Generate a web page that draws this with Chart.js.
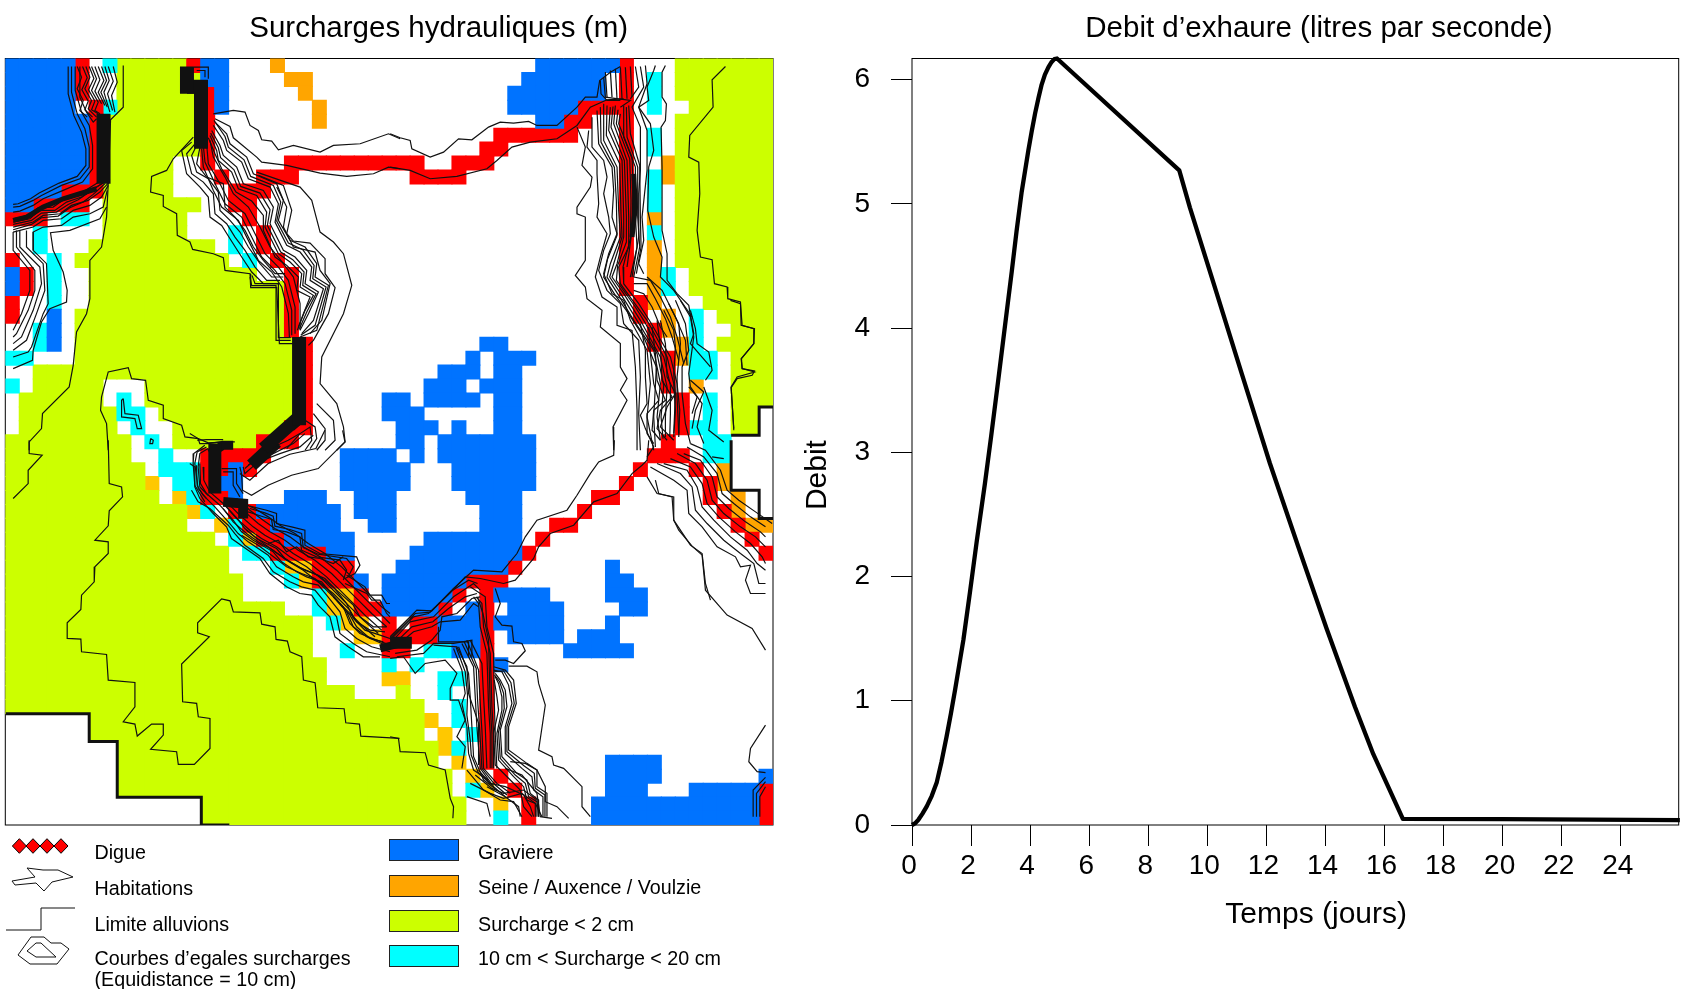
<!DOCTYPE html>
<html>
<head>
<meta charset="utf-8">
<title>Surcharges hydrauliques</title>
<script src="https://cdn.jsdelivr.net/npm/chart.js@4/dist/chart.umd.min.js"></script>
<style>
  html, body { margin: 0; padding: 0; background: #fff; }
  canvas { position: absolute; top: 0; }
  #carte { left: 0; }
  #debit { left: 800px; }
</style>
</head>
<body>
<canvas id="carte" width="800" height="989"></canvas>
<canvas id="debit" width="881" height="989"></canvas>
<script>
// debit d'exhaure
const temps = [0, 0.10, 0.21, 0.35, 0.5, 0.67, 0.84, 1.0, 1.17, 1.32, 1.46, 1.60, 1.74, 1.96, 2.19, 2.47, 2.68, 2.92, 3.15, 3.38, 3.54, 3.71, 3.94, 4.05, 4.17, 4.28, 4.39, 4.5, 4.62, 4.72, 4.82, 4.91, 9.05, 9.41, 10.2, 11.17, 12.12, 13.08, 14.04, 15.0, 15.62, 16.62, 20, 26];
const debit = [0, 0.013, 0.04, 0.09, 0.15, 0.235, 0.345, 0.51, 0.71, 0.90, 1.09, 1.29, 1.49, 1.87, 2.28, 2.75, 3.13, 3.58, 4.02, 4.46, 4.78, 5.09, 5.43, 5.58, 5.73, 5.85, 5.96, 6.04, 6.10, 6.14, 6.165, 6.17, 5.27, 4.97, 4.37, 3.63, 2.91, 2.24, 1.58, 0.95, 0.57, 0.05, 0.048, 0.04];

// carte : 55 x 55 mailles, une chaine par ligne (nombre + code)
const couleurs = { B: '#0073ff', R: '#ff0000', C: '#00ffff', O: '#ffa500', Y: '#ffc800', L: '#ccff00' };
const mailles = [
  '5B R . C 5L R 2B 3. O 18. 6B R 3. 7L',
  '5B R 2. 6L 2B 4. 2O 15. 6B . R . C . 7L',
  '5B R 2. 6L R B 5. O 14. 7B . R . C . 7L',
  '5B . R C 6L R B 6. O 13. 5B 4R . C 2. 6L',
  '6B R 7L R 7. O 15. 2B 2R 2. R 3. 7L',
  '6B R 7L R 20. 6R 3. R . C . 7L',
  '6B R 7L R 19. 2R 8. R . C . 7L',
  '6B R 5L 2. R 5. 10R 2. 3R 9. R 2. O 7L',
  '6B R 5L 3. R 2. 3R 8. 4R 11. R . C O 7L',
  '4B 3R 5L 4. 3R 25. R . C . 7L',
  '2B 4R . 7L 2. 2R 26. R . C . 7L',
  '3R . 2C . 6L 4. R 26. R . O . 7L',
  '2. C 4. 6L 3. C . R 25. R . C . 7L',
  '2. C 3. 9L . C . R 25. R . O . 7L',
  'R 2. C . 11L . C . R 24. R . O . 7L',
  'B R . C 2. 12L 2. R 23. R . O C . 6L',
  'B R . C 2. 14L R 23. R . O C . 6L',
  'R 2. C 2. 14L R 24. R O 3. 5L',
  'R 2. B . 15L R 24. R . O . C . 4L',
  '2. C B . 15L R 25. R O . C 2. 3L',
  '2. C B . 16L R 12. 2B 10. R . O C . 4L',
  '2C 3. 16L R 11. B . 3B 9. R O 2C . 3L',
  '2. 19L R 9. 3B . 2B 10. R . 2C . 3L',
  'C . 5L 3. 11L R 8. 3B . 3B 10. R . O 2. 3L',
  '. 6L . C . 11L R 5. 2B . 4B . 2B 11. R . C . 3L',
  '. 7L 2C . 10L R 5. 3B 5. 2B 11. R . C . 2L .',
  '. 7L . C 2. 8L 2R 6. 3B . B 2. 2B 11. R 2C . 2L .',
  '9L . C . 6L 3R 7. 2B . 7B 9. R 2. 2C 3.',
  '9L 2. C 2. 4R R 5. 4B . B . 7B 8. 3R . 2C 3.',
  '10L . 3C R R B R 6. 5B 3. 6B 7. R 3. R . O 3.',
  '10L Y . 2C R 2B . 6. 5B 3. 6B 6. R 5. R O 3.',
  '11L . Y C R R B . 2. 3B 2. 3B 5. 4B 5. 2R 6. R . O 2.',
  '13L Y C . R R 6B . 3B 6. 3B 4. R 9. R O 2.',
  '13L 2. Y C R R 5B 2. 2B 6. 3B 2. 2R 11. R 2O',
  '15L . C Y 2R 5B 5. 7B . R 14. R .',
  '16L . 2C 4R 2B 4. 8B R 16. R',
  '16L 3. C 2Y 3R 3. 8B R 6. B 11.',
  '17L 3. C Y 2R R B . 6B 3R 7. 2B 10.',
  '17L 5. C 2Y R . 5B R . R 4B 4. 3B 9.',
  '20L 2. C 2Y 2R 4B R . B R . 4B 4. 2B 9.',
  '22L . C 2Y . R . 2R 3B R 5B 3. B 11.',
  '22L 3. 2Y 2R 2R 3B R . 4B . 3B 11.',
  '22L 2. C 2. 2R . 2C 2B R 5. 5B 10.',
  '23L 4. C . C 4. R B 19.',
  '23L 4. 2Y 2. 2C . R 20.',
  '25L 3. L 2. C 2. R 20.',
  '30L 2. C . R 20.',
  '6. 24L Y . C . R 20.',
  '6. 24L . Y . C R 20.',
  '8. 23L Y C . R 20.',
  '8. 23L . Y . R 8. 4B 8.',
  '8. 24L . Y . R 7. 4B 7. B',
  '8. 24L . C Y . R 6. 3B 3. 5B R',
  '14. 19L 2. Y . R 4. 12B R',
  '14. 19L 2. C . R 4. 12B R'
];

// courbes d'egales surcharges, relevees par dalle de la carte
const dalles = { A: [-16.5, -24], B: [1153.5, -24], C: [-16.5, 1146], D: [1153.5, 1146], E: [1903.5, 726], F: [553, 1116] };
const courbesA = [
  [370,45,370,170,332,208,325,400,320,500,305,590,270,630,270,745,260,790,230,845,220,945,208,1010,128,1090,125,1135,88,1175,88,1200],
  [640,190,700,180,735,185,750,225,775,240,785,268,815,272,835,298,880,285,960,305,1000,285,1080,280,1165,250,1200,265],
  [645,205,690,228,700,262,770,320,785,335,860,345,960,368,1040,378,1120,370,1165,350,1200,355],
  [770,365,900,410,935,450,960,545,1000,575,1030,610,1055,705,1030,790,965,920,960,1000,1010,1060,1030,1130,1035,1175,1010,1200],
  [775,375,850,405,875,480,860,550,880,572,930,578,975,625,975,670,1005,712,985,790,940,870,925,885],
  [830,410,860,470,850,530,880,590,945,605,960,660,990,700,965,810,930,850],
  [580,260,520,325,500,360,455,378,452,425,490,435,490,468,530,490,532,555,570,575,578,597,640,610,670,622,675,660,750,670,752,712,830,712,838,880,878,880],
  [575,275,545,300,560,370,600,410,625,440,630,500,665,525,690,565,725,620,755,665,790,700,835,700],
  [585,280,560,310,575,370,610,395,640,430,645,490,680,520,705,560,735,600,765,650,800,690,840,690],
  [590,285,575,315,590,365,625,385,655,425,660,480,690,510,720,545,745,590,780,640,815,680,850,680],
  [600,290,590,340,620,380,670,400,675,470,705,500,735,540,760,590,790,630,825,670,855,670],
  [645,215,680,250,690,280,740,320,760,370,830,400,850,450,835,510,870,570,915,590,950,640,945,680,985,705,950,840,900,860],
  [642,210,675,258,685,290,732,328,752,378,820,405,842,455,830,512,865,578,908,598,942,645,938,685,978,710,945,825,902,855],
  [640,225,670,270,680,300,725,335,745,385,810,410,835,460,825,515,860,585,900,605,935,650,930,690,970,715,940,810,905,850],
  [635,240,660,285,670,315,710,350,730,400,790,420,820,470,810,520,850,600,885,620,920,660,915,700,955,725,925,790,900,840],
  [632,248,655,292,662,322,702,358,722,408,780,428,810,478,802,525,842,605,878,628,912,665,908,705,948,730,920,785,898,835],
  [630,255,650,300,655,330,695,365,715,415,770,435,800,485,795,530,835,610,870,635,905,670,900,710,940,735,915,780,895,830],
  [625,262,645,310,665,355,690,395,708,425,755,452,790,495,790,540,825,620,860,645,895,680,890,720,930,740,910,790,892,840],
  [630,270,640,320,675,380,700,430,745,470,780,530,810,590,850,640,880,680,900,760,900,840],
  [620,280,625,340,660,400,685,450,735,490,765,550,795,610,835,650,865,690,885,770,885,850],
  [610,285,615,335,650,410,675,460,725,500,755,560,785,620,825,660,855,700,875,780,875,855],
  [605,295,610,350,640,420,665,470,715,510,745,570,775,630,815,665,845,710,865,790,868,860],
  [750,680,755,706,828,706,828,870,872,870],
  [756,675,765,700,835,700,835,862,872,862],
  [582,50,625,50,625,85],
  [590,60,615,60,615,80],
  [205,48,205,130,222,195,245,245,258,295,258,345,232,378,178,398,118,428,92,445,55,460,40,462],
  [215,48,215,125,232,190,255,235,268,290,268,350,240,385,185,405,125,435,100,450,60,468,40,470],
  [226,48,226,120,245,185,268,225,278,285,278,355,248,395,190,420,130,445,100,465,60,482,40,485],
  [232,48,245,80,232,115,250,150,240,180,262,200],
  [240,48,240,140,260,185,280,215,290,205],
  [248,48,262,82,246,118,265,152,255,178,278,200],
  [258,48,270,80,255,115,275,150,265,175,290,200],
  [268,48,282,84,266,118,285,152,275,178,295,190],
  [275,48,290,85,275,120,295,155,285,180,300,190],
  [285,48,300,88,285,122,305,160],
  [295,48,312,90,295,125,315,165],
  [305,48,320,90,303,125,322,170],
  [315,48,328,90,312,125,330,185],
  [325,48,340,92,323,130,338,180],
  [340,48,352,95,335,135,345,185],
  [328,375,285,402,240,430,195,445,160,470,115,472,85,495,40,505],
  [330,385,290,410,245,440,200,455,165,480,120,480,90,505,40,515],
  [320,390,275,420,235,448,205,462,170,485,125,488,95,510,40,522],
  [328,395,300,425,265,450,215,465,180,490,130,495,100,515,40,530],
  [315,400,280,432,250,455,210,472,175,497,125,502,95,522,40,538],
  [325,405,305,440,270,465,220,480,185,505,130,510,100,530,40,545],
  [322,420,310,470,270,490,220,500,185,525,130,530,100,545,100,600],
  [320,470,300,505,210,540,152,547,160,600,190,665,202,720,200,755,150,775,125,815,100,900,98,930,40,955],
  [100,545,100,600,140,640,145,760,130,790,95,890,85,905,40,920],
  [60,540,60,590,120,650,125,700,100,780,65,860,40,880],
  [50,540,50,590,105,660,105,720,85,780,50,850,40,860],
  [40,545,40,600,90,660,90,720,65,790,40,840],
  [80,540,80,590,130,640,135,720,110,790,80,870,40,900],
  [370,1045,375,1090,415,1095,425,1135,412,1135,405,1105,365,1100,365,1050,370,1045],
  [452,1165,460,1170,458,1180,450,1180,452,1165],
  [325,1200,320,1120,302,1080,305,1040,325,965,385,952,395,985,437,990,445,1050,490,1065,490,1105,545,1125,555,1160,595,1165,625,1178,680,1175],
  [880,1140,915,1110,945,1130,950,1165,930,1195],
  [860,1195,900,1150,930,1130,935,1170,915,1200],
  [940,1090,975,1135,975,1170,950,1200],
  [950,1060,1000,1110,1005,1170,975,1200]
];
const courbesB = [
  [0,250,30,262,60,270,65,295,120,320,160,305,205,265,245,268,295,230,330,215,370,218,415,213,440,225,500,225,560,170,585,140,620,140,628,90,660,65,690,48],
  [0,350,60,360,120,385,200,378,290,355,320,330,365,290,420,275,500,265,560,225,600,170,650,148,700,145],
  [1005,48,965,88,968,170,898,255,895,320,925,335,928,430,920,540,930,620,965,628,972,700,1010,710,1012,745,1050,755,1052,825,1092,835,1090,880,1052,925,1055,955,1092,965,1040,980,1022,1010,1030,1140],
  [560,230,585,290,575,345,605,380,600,410,560,470,560,490,585,500,585,630,555,675,585,710,590,745,635,780,630,830,690,880,690,950,710,985,690,1020,710,1050,668,1130,670,1200],
  [595,240,590,290,620,330,620,370,625,460,620,500,650,550,630,620,615,680,635,740,680,770,680,825,725,840,735,950,740,1080,740,1200],
  [605,200,605,290,640,330,650,380,640,430,655,500,660,550,640,600,625,660,650,720,690,760,700,820,745,870,750,980,745,1090,750,1200],
  [620,180,625,280,665,350,670,420,665,500,680,550,655,610,640,670,665,730,700,750,720,810,770,900,780,1000,770,1100,790,1200],
  [630,170,632,275,672,350,678,450,680,555,652,625,640,680,675,735,708,780,760,860,798,950,790,1100,795,1190],
  [640,160,640,270,680,350,685,480,690,560,660,640,650,680,685,735,730,810,790,900,810,1000,800,1100,810,1170],
  [650,165,648,255,688,340,692,490,695,560,670,640,658,680,692,732,740,810,800,910,820,1005,812,1100,818,1165],
  [660,170,655,240,695,330,700,500,700,560,680,640,665,680,700,730,750,810,810,920,830,1010,825,1100,825,1160],
  [668,168,662,230,702,330,708,500,708,575,682,645,678,690,735,770,760,810,820,920,840,1005,840,1090,838,1160],
  [675,165,670,220,710,330,715,500,715,590,685,650,690,700,770,810,830,920,850,1000,855,1080,850,1160],
  [683,178,678,220,718,325,722,450,720,565,698,650,700,700,745,760,780,815,840,920,860,1000,868,1080,865,1160],
  [690,190,685,220,725,320,728,400,725,540,710,650],
  [700,165,700,260,735,350,735,500,740,590,720,680],
  [708,170,710,260,742,350,742,500,748,590,730,680],
  [715,165,720,250,748,345,750,500,752,590,738,670],
  [630,90,632,130,650,150,690,150],
  [640,80,645,140,720,150,690,170],
  [645,65,650,140],[660,60,665,140],[675,55,680,145],[690,50,695,145],[705,50,710,145],[720,48,725,140],
  [735,48,745,110,720,145],
  [750,48,760,110,725,170,750,230,750,300,750,360,745,430,745,560,735,620,725,680],
  [765,45,770,100,745,170,770,240,770,360,755,500,760,570,745,640,760,670],
  [795,45,790,60,770,110,775,150,745,170,780,220,790,300,775,350,772,480,790,560,815,620,810,680,850,720,905,800],
  [825,45,815,65,815,140,828,160,825,210,812,230,815,350,815,540,830,610,830,690,860,730,895,765,910,850,900,880,960,950],
  [730,680,780,690,810,740,840,800,860,860,880,940],
  [730,700,770,700,795,745,825,805,845,860,865,930],
  [730,720,760,730,785,770,810,830,830,860],
  [770,680,815,720,855,800,885,870,890,945]
];
const courbesC = [
  [88,0,88,40,127,45,85,90,85,130,40,175],
  [325,0,328,130,365,140,368,170,328,212,325,257,285,300,325,305,325,340,285,380,283,425,245,465,243,508,202,548,202,595,243,597,245,635,320,643,325,720,405,727,405,800,370,845,405,852,412,888,455,852,490,852,490,885,452,928,530,935,535,973,583,973,630,925,630,835,595,830,590,790,548,785,545,672,628,590,593,578,593,548,665,476,690,482,700,515,780,518,785,552,825,560,828,598,862,603,870,635,905,650,910,720,945,728,953,803,1032,806,1037,848,1078,852,1082,888,1198,895]
];
const courbesD = [
  [0,590,80,510,125,512,190,445,250,390,335,395,380,340,405,290,440,240,530,210,560,165,600,100,625,65,670,45,672,0],
  [0,600,70,530,115,520,180,458,225,410,270,415,340,430,375,420,430,355,445,320,480,280,550,255,610,185,680,160,725,100,755,75,770,60,775,0],
  [0,595,75,520,120,516,185,452,235,420,262,430],
  [0,610,60,545,130,530,190,470,250,430,270,450],
  [5,618,65,560,128,545,175,505,225,470,260,460],
  [10,625,70,575,125,560,150,545,210,540,250,490,265,500],
  [15,640,80,630,125,600,150,570,155,530,200,520,245,475,270,470],
  [20,650,100,640,130,610,190,610,245,600,245,650],
  [145,560,145,605,235,605,235,650],
  [130,615,200,620,230,680,235,760,265,850,265,975],
  [190,625,215,690,225,760,215,790,230,860,235,940,250,990,295,1020],
  [198,622,225,695,232,765,230,825,240,900,243,945,265,1000,305,1035],
  [205,620,235,700,240,770,245,860,250,950,280,1020,320,1050],
  [215,610,250,680,255,770,260,860,270,985,310,1040,345,1070],
  [222,605,258,685,262,780,268,865,275,985,315,1035,350,1065],
  [230,600,265,690,270,790,275,870,280,985,320,1030,360,1060],
  [240,600,275,670,280,770,285,860,290,985],
  [250,470,265,490,270,560,290,640,295,800,300,880,300,985],
  [258,470,275,490,280,560,300,640,305,800,310,880,310,985],
  [262,470,278,520,295,600,300,800,305,880,305,985],
  [240,440,285,470,290,560,310,640,312,780,315,880,320,985],
  [310,680,345,690,370,720,378,790,355,860,355,930,410,970,440,990,440,1040,470,1060,470,1130],
  [312,695,340,692,362,728,372,790,350,860,350,935,402,978,432,1000,435,1045,464,1065,464,1130],
  [310,690,335,695,355,735,365,790,345,860,345,940,395,985,425,1010,430,1050,458,1070,458,1130],
  [315,700,330,720,345,750,350,800,330,870,335,950,380,1000,410,1020,420,1060,445,1080,445,1130],
  [313,705,328,725,340,760,342,805,325,875,330,955,375,1005,405,1030,415,1070,440,1085,440,1130],
  [315,710,325,730,335,770,335,810,320,880,325,960,370,1010,400,1040,410,1080,435,1090,435,1130],
  [312,720,320,770,325,810,310,880,315,975,360,1020,390,1050,400,1100,425,1130],
  [315,445,330,490,315,530,335,555,365,558,370,605,395,610,405,632,370,670,345,660,315,660],
  [355,678,410,678,440,695,445,730,465,795,445,930,485,950,490,975,520,985,575,1040,575,1100,600,1130],
  [360,965,405,970,440,990,465,1040,465,1085,500,1100,535,1135],
  [345,985,395,1005,440,1060,450,1130,485,1135],
  [0,655,40,650,75,700,105,670,165,660,200,700,180,745,180,780,205,780,225,840,200,890,225,920,215,985],
  [0,890,25,895,30,935,105,938,115,975,165,990,180,1075,190,1100,188,1135],
  [230,1070,290,1090,300,1130],
  [290,1040,345,1070,385,1100,390,1130],
  [240,1030,300,1060,340,1075,395,1060,435,1090,455,1130],
  [255,1005,305,1045,340,1060,400,1050,440,1080,445,1130],
  [265,990,300,1030,345,1040,400,1065,420,1100,430,1130],
  [230,990,280,1050,330,1080,370,1085,395,1130],
  [1088,1130,1088,1050,1125,1012],
  [1098,1130,1098,1060,1125,1025],
  [1108,1130,1108,1070,1125,1040],
  [1125,855,1080,925,1075,965,1100,995,1125,998],
  [795,120,805,160,845,170,850,240,865,270,905,318,935,345,945,450,1010,525,1085,565,1125,630]
];
const courbesE = [
  [20,530,50,580,100,590,100,660,150,735,185,760,195,850,210,900],
  [30,500,100,540,140,570,145,640,185,680,230,740,285,770,300,800,330,795,315,840,330,880,375,880],
  [50,490,120,520,155,560,165,630,200,670,250,720,300,760,340,790,355,850,375,850],
  [70,490,140,510,170,560,185,620,220,660,270,710,320,750,350,790,375,810],
  [90,475,150,500,185,550,200,610,235,650,285,695,330,730,365,770,375,790],
  [110,460,165,490,200,540,215,600,250,640,300,680,345,710,375,740],
  [130,460,180,480,215,530,230,590,265,625,315,665,360,695,375,710],
  [140,440,190,470,230,520,245,580,280,610,330,650,375,680],
  [150,430,195,450,240,510,260,570,295,600,345,635,395,670],
  [0,70,15,150,15,230,20,310,0,345,15,385,40,440,20,470],
  [25,80,30,160,40,250,55,300,20,340,20,400,40,430],
  [35,80,45,160,50,240,75,300,40,330,35,390,60,420],
  [50,60,60,140,65,240,95,290,60,330,50,385,80,420],
  [60,60,75,130,80,230,105,280,80,320,60,380,100,420],
  [70,30,100,90,105,140,100,220,105,280,100,400],
  [85,10,115,70,120,130,110,230,110,290,115,400],
  [105,0,135,70,145,150,125,200,125,280,135,370,150,430],
  [120,0,150,50,160,110,145,220,150,260,185,310,170,380,190,430],
  [150,30,165,85,170,130,205,155,215,210,195,240],
  [190,260,215,330,205,390,250,425],
  [215,470,250,475],
  [270,0,300,10,305,75,340,85,340,130,303,175,305,205,342,212,335,225,290,235,272,262,280,385],
  [150,240,190,275,165,330,155,385],
  [145,260,170,290,155,340]
];
const courbesF = [
  [458,0,465,35,385,115,305,135,235,165,185,195,158,180,155,130,150,110],
  [405,0,378,55,300,72,235,100,180,150,150,130],
  [370,15,330,50,270,70,205,95,165,130,160,110],
  [345,10,310,40,250,70,200,85,165,115],
  [330,10,295,30,250,50,175,105],
  [180,228,230,240,260,250,260,280,305,290,345,300,345,345,390,370,500,380,510,405,495,430,465,445],
  [180,235,225,248,250,258,255,288,300,298,335,310,340,352,385,372,470,385,490,410,475,440],
  [175,245,215,258,245,268,250,298,290,305,330,320,335,360,380,380,450,390,470,420,460,450],
  [470,435,525,470,540,495,575,495,590,520,600,520],
  [465,460,530,490,545,510,570,510,590,550,600,560],
  [0,100,15,110,15,170,30,205,70,250,110,290,125,325,160,350,210,385,240,430,290,470,330,490,365,495,385,525,420,560,435,620,475,650,520,680,570,680],
  [5,180,25,215,60,235,115,285,135,310,165,345,220,385,250,425,300,455,335,470,375,480,400,510,440,560,450,610,490,640,530,665,600,680],
  [20,105,22,165,40,195,75,230,120,280,145,310,175,335,235,375,260,410,310,440,340,455,385,465,410,495,450,545,465,595,500,625,545,650,600,665],
  [30,100,32,160,50,190,90,225,130,270,155,305,190,330,250,365,275,395,320,425,350,440,395,455,420,485,460,530,480,580,510,610,560,630,600,645],
  [40,110,42,150,60,185,100,220,140,262,165,295,200,325,260,355,285,385,330,412,360,425,405,445,430,470,470,520,490,565,525,600,570,615,600,625],
  [155,315,205,345,245,375,290,410,335,430,375,445,430,490,480,540,500,575,540,600,585,605],
  [170,300,215,335,255,365,300,395,345,420,385,435,440,480,490,525,510,560,550,590,590,590],
  [100,235,130,275,170,310,205,335,250,360,290,390,340,420,390,460,430,500,470,540,510,580,555,620],
  [105,225,140,265,180,300,215,325,260,350,300,380,350,410,400,450,440,490,480,530,520,570,565,610],
  [110,215,150,255,190,290,225,315,270,340,310,370,360,400,410,440,450,480,490,520,530,560,575,600],
  [125,205,165,245,205,280,240,305,285,330,325,360,375,390,425,430,465,470,505,510,545,550,590,590],
  [140,205,180,240,220,270,255,295,300,320,340,350,390,380,440,420,480,460,520,500,560,540,600,580],
  [150,215,195,235,235,260,270,285,315,310,355,340,405,370,455,410,495,450,535,490,575,530,600,550],
  [430,500,470,545,490,590,530,620,575,640,600,650],
  [440,510,480,555,500,590,540,625,580,635],
  [235,340,265,330,290,365,320,350,355,380,390,385,430,400,460,380],
  [55,55,30,70,25,110,30,170,55,195],
  [50,50,22,65,15,100,25,175,50,205],
  [45,45,12,70,10,100,15,165,45,215],
  [95,115,140,115,140,160,160,190],
  [100,125,130,125,130,165,150,200],
  [0,10,25,25,30,40,55,40,90,35,135,35],
  [22,30,50,28,100,28]
];
// faisceaux si serres qu'ils paraissent noirs : [dalle, epaisseur, points]
const faisceaux = [
  ['A', 14, [561,48,561,130]],
  ['A', 14, [561,109,603,109,603,295]],
  ['A', 14, [311,190,311,400]],
  ['A', 5, [290,415,240,430,190,445,130,470,80,500,40,510]],
  ['A', 14, [897,860,897,1125]],
  ['A', 13, [897,1100,790,1195]],
  ['B', 5, [730,370,735,470,725,560]],
  ['F', 13, [75,40,75,190]],
  ['F', 9, [60,70,100,45,130,45]],
  ['F', 13, [185,105,260,35]],
  ['F', 10, [100,215,160,220,160,265]],
  ['D', 12, [0,608,65,608]],
  ['C', 8, [1140,625,1200,610]]
];
const limites = [
  ['B', [1148,1070,1106,1070,1106,1155,1022,1155]],
  ['D', [1022,0,1022,150,1106,150,1106,235,1148,235]],
  ['C', [18,821,268,821,268,904,352,904,352,1072,604,1072,604,1155,688,1155]]
];

const ticksDebit = [0, 1, 2, 3, 4, 5, 6];
const legendeSymboles = ['Digue', 'Habitations', 'Limite alluvions', 'Courbes d\u2019egales surcharges', '(Equidistance = 10 cm)'];
const legendeAplats = [['Graviere', '#0073ff'], ['Seine / Auxence / Voulzie', '#ffa500'], ['Surcharge < 2 cm', '#ccff00'], ['10 cm < Surcharge < 20 cm', '#00ffff']];

const COTE_CARTE = 2301;
const MAILLE = COTE_CARTE / 55;
const POLICE = '"Liberation Sans", Arial, sans-serif';

function points(dalle, plats) {
  const [dx, dy] = dalles[dalle];
  const pts = [];
  for (let i = 0; i < plats.length; i += 2) pts.push({ x: plats[i] + dx, y: plats[i + 1] + dy });
  return pts;
}

function trace(data, largeur, ordre) {
  return { data, showLine: true, pointRadius: 0, borderColor: '#111', borderWidth: largeur, borderCapStyle: 'butt', borderJoinStyle: 'miter', tension: 0, clip: 0, order: ordre };
}

const parCouleur = {};
mailles.forEach((ligne, r) => {
  let c = 0;
  ligne.split(' ').forEach(bloc => {
    const n = parseInt(bloc) || 1;
    const code = bloc[bloc.length - 1];
    if (code !== '.') {
      parCouleur[code] = parCouleur[code] || [];
      for (let i = 0; i < n; i++) parCouleur[code].push({ x: (c + i + 0.5) * MAILLE, y: (r + 0.5) * MAILLE });
    }
    c += n;
  });
});

const jeux = Object.keys(parCouleur).map(code => ({
  data: parCouleur[code], pointStyle: 'rect', pointRadius: 10.6, pointBorderWidth: 0,
  pointBackgroundColor: couleurs[code], showLine: false, clip: 0, order: 10
}));
[['A', courbesA], ['B', courbesB], ['C', courbesC], ['D', courbesD], ['E', courbesE], ['F', courbesF]].forEach(([dalle, liste]) => {
  liste.forEach(c => jeux.push(trace(points(dalle, c), 1.2, 5)));
});
faisceaux.forEach(f => jeux.push(trace(points(f[0], f[2]), f[1], 4)));
limites.forEach(l => jeux.push(trace(points(l[0], l[1]), 3, 1)));

// le titre n'est pas centre sur la figure dans l'original
const decaleTitre = {
  id: 'decaleTitre',
  afterLayout(chart, args, opts) {
    chart.titleBlock.left += opts.dx;
    chart.titleBlock.right += opts.dx;
  }
};

function cadre(chart) {
  const a = chart.chartArea, ctx = chart.ctx;
  ctx.save();
  ctx.strokeStyle = '#000';
  ctx.lineWidth = 1;
  ctx.strokeRect(a.left, a.top, a.right - a.left, a.bottom - a.top);
  ctx.restore();
}

const legende = {
  id: 'legende',
  afterDraw(chart) {
    const ctx = chart.ctx;
    ctx.save();
    ctx.font = '19.7px ' + POLICE;
    ctx.fillStyle = '#000';
    ctx.textBaseline = 'middle';
    [853.5, 889.5, 925.5, 959.5, 980.5].forEach((y, i) => ctx.fillText(legendeSymboles[i], 94.5, y));
    legendeAplats.forEach((a, i) => {
      const y = [839, 875, 910, 945][i];
      ctx.fillStyle = a[1];
      ctx.fillRect(389, y, 70, 22);
      ctx.strokeStyle = '#222';
      ctx.strokeRect(389.5, y + 0.5, 69, 21);
      ctx.fillStyle = '#000';
      ctx.fillText(a[0], 478, [853.5, 889, 925.5, 960][i]);
    });
    // digue
    [19.4, 33, 47, 61].forEach(x => {
      ctx.beginPath();
      ctx.moveTo(x - 7, 846); ctx.lineTo(x, 838.7); ctx.lineTo(x + 7, 846); ctx.lineTo(x, 853.3); ctx.closePath();
      ctx.fillStyle = '#ff0000';
      ctx.fill();
      ctx.strokeStyle = '#000';
      ctx.stroke();
    });
    const poly = (pts, ferme) => {
      ctx.beginPath();
      pts.forEach((p, i) => i ? ctx.lineTo(p[0], p[1]) : ctx.moveTo(p[0], p[1]));
      if (ferme) ctx.closePath();
      ctx.stroke();
    };
    ctx.strokeStyle = '#111';
    ctx.lineWidth = 1;
    poly([[12,881],[35,877],[27,868],[43,870],[58,870],[73,877],[52,882],[44,891],[36,883],[15,885]], true);
    poly([[6,930],[41,930],[41,908],[75,908]], false);
    poly([[18,955],[31,937],[44,937],[51,943],[61,943],[69,949],[57,964],[30,964]], true);
    poly([[27,951],[36,943],[41,943],[56,957],[36,957]], true);
    ctx.restore();
  }
};

new Chart(document.getElementById('carte').getContext('2d'), {
  type: 'scatter',
  data: { datasets: jeux },
  plugins: [decaleTitre, legende, { id: 'cadre', beforeDatasetsDraw: cadre }],
  options: {
    responsive: false,
    animation: false,
    events: [],
    layout: { autoPadding: false, padding: { left: 5.3, right: 27, bottom: 164, top: 0 } },
    plugins: {
      legend: { display: false },
      tooltip: { enabled: false },
      decaleTitre: { dx: 49.5 },
      title: {
        display: true, text: 'Surcharges hydrauliques (m)', color: '#000',
        font: { family: POLICE, size: 29.5, weight: 'normal' }, padding: { top: 10.8, bottom: 12.3 }
      }
    },
    scales: {
      x: { display: false, min: 0, max: COTE_CARTE },
      y: { display: false, min: 0, max: COTE_CARTE, reverse: true }
    }
  }
});

new Chart(document.getElementById('debit').getContext('2d'), {
  type: 'line',
  data: {
    labels: temps,
    datasets: [{
      data: temps.map((t, i) => ({ x: t, y: debit[i] })),
      borderColor: '#000', borderWidth: 4.3, pointRadius: 0, tension: 0, clip: false, borderJoinStyle: 'round'
    }]
  },
  plugins: [decaleTitre, { id: 'cadre', beforeDatasetsDraw: cadre }],
  options: {
    responsive: false,
    animation: false,
    events: [],
    layout: { autoPadding: false, padding: { left: 0, right: 2.3, bottom: 0, top: 0 } },
    plugins: {
      legend: { display: false },
      tooltip: { enabled: false },
      decaleTitre: { dx: 79.6 },
      title: {
        display: true, text: 'Debit d\u2019exhaure (litres par seconde)', color: '#000',
        font: { family: POLICE, size: 29.5, weight: 'normal' }, padding: { top: 10.8, bottom: 12.3 }
      }
    },
    scales: {
      x: {
        type: 'linear', min: 0, max: 25.96,
        afterFit: s => { s.height = 164; },
        border: { display: false },
        grid: { drawOnChartArea: false, tickLength: 21, color: '#000' },
        ticks: { stepSize: 2, includeBounds: false, autoSkip: false, maxRotation: 0, padding: 3, labelOffset: -3, color: '#000', font: { family: POLICE, size: 28 } },
        title: { display: true, text: '\u00a0\u00a0\u00a0\u00a0\u00a0Temps (jours)', color: '#000', font: { family: POLICE, size: 30 }, padding: { top: 0, bottom: 56 } }
      },
      y: {
        min: 0, max: 6.17,
        afterFit: s => { s.width = 112; },
        border: { display: false },
        grid: { drawOnChartArea: false, tickLength: 21, color: '#000' },
        afterBuildTicks: s => { s.ticks = ticksDebit.map(v => ({ value: v })); },
        ticks: { padding: 21, color: '#000', font: { family: POLICE, size: 28 } },
        title: { display: true, text: 'Debit\u00a0\u00a0\u00a0\u00a0\u00a0\u00a0\u00a0\u00a0', color: '#000', font: { family: POLICE, size: 30 }, padding: { top: 0, bottom: 0 } }
      }
    }
  }
});
</script>
</body>
</html>
